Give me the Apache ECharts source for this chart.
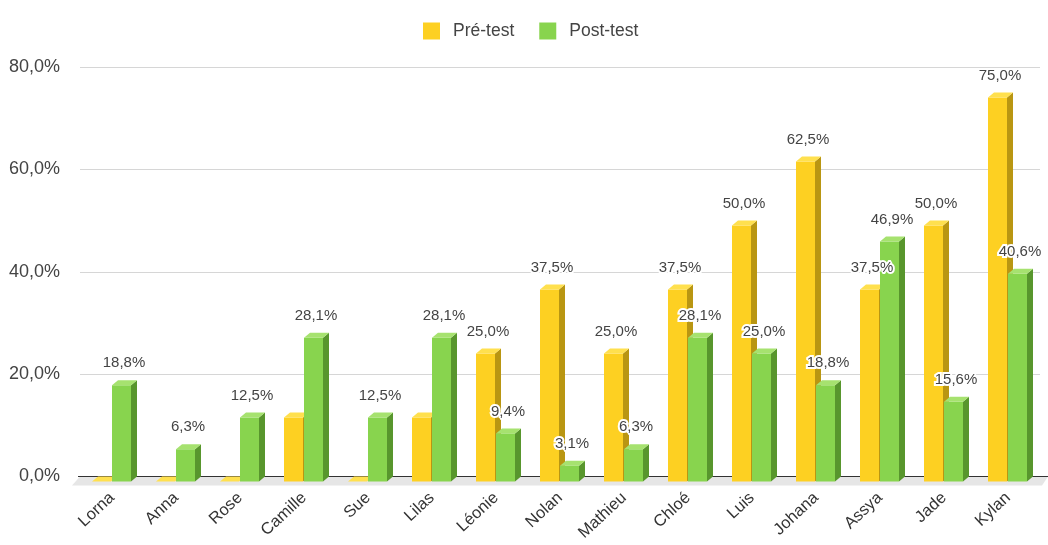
<!DOCTYPE html>
<html>
<head>
<meta charset="utf-8">
<script src="https://cdn.jsdelivr.net/npm/echarts@6/dist/echarts.min.js"></script>
<style>
html,body{margin:0;padding:0;background:#fff;}
#chart{width:1048px;height:545px;}
</style>
</head>
<body>
<div id="chart"></div>
<script>
const categories = ['Lorna','Anna','Rose','Camille','Sue','Lilas','Léonie','Nolan','Mathieu','Chloé','Luis','Johana','Assya','Jade','Kylan'];
const preTest  = [0, 0, 0, 12.5, 0, 12.5, 25.0, 37.5, 25.0, 37.5, 50.0, 62.5, 37.5, 50.0, 75.0];
const postTest = [18.8, 6.3, 12.5, 28.1, 12.5, 28.1, 9.4, 3.1, 6.3, 28.1, 25.0, 18.8, 46.9, 15.6, 40.6];
const preLabelShown  = [false,false,false,false,false,false,true,true,true,true,true,true,true,true,true];
const postLabelShown = [true,true,true,true,true,true,true,true,true,true,true,true,true,true,true];
const yTicks = [0, 20, 40, 60, 80];

const FONT = '"Liberation Sans", Arial, sans-serif';
const W = 19, DX = 6, DY = 5;
const yellow = {front:'#FDD022', side:'#B99612', top:'#FFE04E'};
const green  = {front:'#88D44E', side:'#58962D', top:'#A6E26F'};

function fmt(v){ return v.toFixed(1).replace('.', ',') + '%'; }

function barRenderer(offsetX, c){
  return function(params, api){
    const i = api.value(0), v = api.value(1);
    const t = api.coord([i, v]);
    const b = api.coord([i, 0]);
    const fx = t[0] + offsetX, yt = t[1], yb = b[1];
    return {type:'group', children:[
      {type:'rect', shape:{x:fx, y:yt+DY, width:W, height:yb-yt}, style:{fill:c.front}},
      {type:'polygon', shape:{points:[[fx+W,yt+DY],[fx+W+DX,yt],[fx+W+DX,yb],[fx+W,yb+DY]]}, style:{fill:c.side}},
      {type:'polygon', shape:{points:[[fx,yt+DY],[fx+DX,yt],[fx+W+DX,yt],[fx+W,yt+DY]]}, style:{fill:c.top}}
    ]};
  };
}
function labelRenderer(offsetX){
  return function(params, api){
    const i = api.value(0), v = api.value(1), shown = api.value(2);
    if (!shown) return null;
    const t = api.coord([i, v]);
    return {type:'text', style:{
      text: fmt(v), x: t[0] + offsetX + 12, y: t[1] - 17,
      align:'center', verticalAlign:'middle',
      font: '15px ' + FONT, fill:'#444',
      stroke:'#fff', lineWidth:4
    }};
  };
}
function floorRenderer(params, api){
  const cs = params.coordSys;
  const y0 = api.coord([0, 0])[1];
  const x1 = cs.x, x2 = cs.x + cs.width + 8;
  return {type:'group', children:[
    {type:'polygon', shape:{points:[[x1,y0],[x2,y0],[x2-DX,y0+9],[x1-8,y0+9]]}, style:{fill:'#E6E6E6'}},
    {type:'line', shape:{x1:x1-2, y1:y0, x2:x2, y2:y0}, style:{stroke:'#333', lineWidth:1.2}}
  ]};
}

const chart = echarts.init(document.getElementById('chart'), null, {renderer:'canvas'});
chart.setOption({
  animation:false,
  backgroundColor:'#fff',
  textStyle:{fontFamily:FONT},
  legend:{
    data:['Pré-test','Post-test'], left:418, top:17, icon:'rect',
    itemWidth:17, itemHeight:17, itemGap:25,
    textStyle:{fontSize:17.5, color:'#444', fontFamily:FONT, padding:[0,0,0,8]}
  },
  grid:{left:80, right:8, top:67, bottom:545-476.5, containLabel:false},
  xAxis:{
    type:'category', data:categories, boundaryGap:true,
    axisLine:{show:false}, axisTick:{show:false},
    axisLabel:{rotate:43, interval:0, margin:19, fontSize:16.5, color:'#333', fontFamily:FONT}
  },
  yAxis:{
    type:'value', min:0, max:80, interval:20,
    axisLine:{show:false}, axisTick:{show:false},
    axisLabel:{margin:20, fontSize:18, color:'#444', fontFamily:FONT, formatter:v => fmt(v)},
    splitLine:{lineStyle:{color:'#D6D6D6', width:1}}
  },
  series:[
    {type:'custom', name:'floor', renderItem:floorRenderer, data:[[0,0]], encode:{x:0,y:1}, z:1, silent:true},
    {type:'custom', name:'Pré-test', itemStyle:{color:yellow.front}, renderItem:barRenderer(-20, yellow),
      data:preTest.map((v,i)=>[i,v]), encode:{x:0,y:1}, z:2},
    {type:'custom', name:'Post-test', itemStyle:{color:green.front}, renderItem:barRenderer(0, green),
      data:postTest.map((v,i)=>[i,v]), encode:{x:0,y:1}, z:3},
    {type:'custom', name:'preLabels', renderItem:labelRenderer(-20),
      data:preTest.map((v,i)=>[i,v,preLabelShown[i]?1:0]), encode:{x:0,y:1}, z:10, silent:true},
    {type:'custom', name:'postLabels', renderItem:labelRenderer(0),
      data:postTest.map((v,i)=>[i,v,postLabelShown[i]?1:0]), encode:{x:0,y:1}, z:11, silent:true}
  ]
});
</script>
</body>
</html>
